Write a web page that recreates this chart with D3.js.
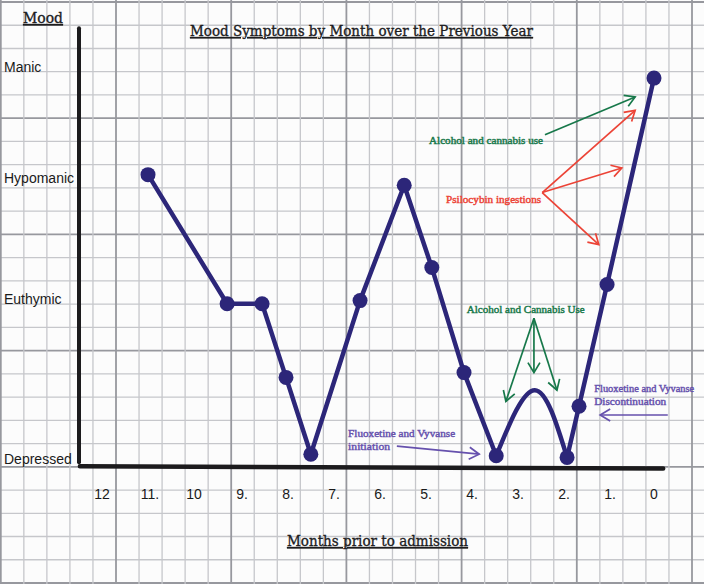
<!DOCTYPE html>
<html>
<head>
<meta charset="utf-8">
<script src="https://cdn.jsdelivr.net/npm/d3@7"></script>
<style>
body { margin: 0; background: #fff; }
svg { display: block; }
</style>
</head>
<body>
<svg width="704" height="584"></svg>
<script>
const svg = d3.select("svg");

// mood levels, bottom to top
var moodLevels = ["Depressed", "Euthymic", "Hypomanic", "Manic"];
var levelValues = [0, 1, 2, 3];

// months prior to admission, labels as written on the sheet
var tickMonths = [12, 11, 10, 9, 8, 7, 6, 5, 4, 3, 2, 1, 0];
var tickLabels = ["12", "11.", "10", "9.", "8.", "7.", "6.", "5.", "4.", "3.", "2.", "1.", "0"];

// plotted points: month prior to admission, mood level (0 = depressed, 3 = manic)
var months = [11, 9.28, 8.52, 8, 7.46, 6.39, 5.43, 4.83, 4.13, 3.43, 1.89, 1.63, 1.02, 0];
var moods  = [2.03, 0.97, 0.97, 0.51, 0.03, 0.99, 1.94, 1.26, 0.54, 0.02, 0.01, 0.33, 1.12, 2.9];
// the little hump drawn between months 3.43 and 1.89 (no dot)
var humpMonth = 2.59;
var humpMood = 0.43;
var humpAfter = 9; // index of the point where the hump starts

// notes, in month / mood units
var notes = [
  {lines: ["Alcohol and cannabis use"], m: 4.89, v: 2.31, kind: "green", w: [114]},
  {lines: ["Psilocybin ingestions"], m: 4.52, v: 1.79, kind: "red", w: [95]},
  {lines: ["Alcohol and Cannabis Use"], m: 4.07, v: 0.91, kind: "green", w: [118]},
  {lines: ["Fluoxetine and Vyvanse", "initiation"], m: 6.65, v: 0.14, kind: "purple", w: [107, 42]},
  {lines: ["Fluoxetine and Vyvanse", "Discontinuation"], m: 1.3, v: 0.42, kind: "purple", w: [100, 72]}
];
var arrows = [
  {from: [2.37, 2.39], to: [0.41, 2.73], kind: "green"},
  {from: [2.43, 1.88], to: [0.41, 2.61], kind: "red"},
  {from: [2.43, 1.88], to: [0.70, 2.09], kind: "red"},
  {from: [2.43, 1.88], to: [1.20, 1.45], kind: "red"},
  {from: [2.61, 0.88], to: [3.22, 0.36], kind: "green"},
  {from: [2.61, 0.88], to: [2.61, 0.54], kind: "green"},
  {from: [2.61, 0.88], to: [2.11, 0.43], kind: "green"},
  {from: [5.59, 0.08], to: [3.80, 0.03], kind: "purple"},
  {from: [-0.30, 0.275], to: [1.17, 0.275], kind: "purple"}
];

var colors = {green: "#17784a", red: "#ec4336", purple: "#6651ad"};
var navy = "#2c2679";

// graph paper
var paperX = d3.scaleLinear().domain([0, 30]).range([0.8, 692]);
var paperY = d3.scaleLinear().domain([0, 25]).range([2, 583]);

svg.append("rect").attr("width", 704).attr("height", 584).attr("fill", "#fcfcfc");

svg.append("g").selectAll("line")
  .data(d3.range(26))
  .join("line")
  .attr("x1", 0).attr("x2", 704)
  .attr("y1", d => paperY(d)).attr("y2", d => paperY(d))
  .attr("stroke", d => d % 5 == 0 ? "#97989e" : "#c6c7cb")
  .attr("stroke-width", d => d % 5 == 0 ? 1.8 : 1.3);

svg.append("g").selectAll("line")
  .data(d3.range(31))
  .join("line")
  .attr("y1", 0).attr("y2", 584)
  .attr("x1", d => paperX(d)).attr("x2", d => paperX(d))
  .attr("stroke", d => d % 5 == 0 ? "#97989e" : "#c6c7cb")
  .attr("stroke-width", d => d % 5 == 0 ? 1.8 : 1.3);

// chart scales
var x = d3.scaleLinear().domain([12, 1]).range([102, 608]);
var y = d3.scaleLinear().domain(levelValues).range([459, 299, 178, 67]);

// axes drawn by hand on the sheet
svg.append("line")
  .attr("x1", x(12.5)).attr("x2", x(12.5))
  .attr("y1", y(3.35)).attr("y2", y(-0.02))
  .attr("stroke", "#1c1b1d").attr("stroke-width", 4).attr("stroke-linecap", "round");
svg.append("line")
  .attr("x1", x(12.48)).attr("x2", x(-0.2))
  .attr("y1", y(-0.045)).attr("y2", y(-0.06))
  .attr("stroke", "#1c1b1d").attr("stroke-width", 4.5).attr("stroke-linecap", "round");

svg.append("g").selectAll("text")
  .data(levelValues)
  .join("text")
  .attr("x", 4)
  .attr("y", d => y(d) + 5)
  .attr("font-family", "Liberation Sans, Arial, sans-serif")
  .attr("font-size", 14)
  .attr("fill", "#1a1a1a")
  .text(d => moodLevels[d]);

svg.append("g").selectAll("text")
  .data(tickMonths)
  .join("text")
  .attr("x", (d, i) => x(d) + (tickLabels[i].endsWith(".") ? 2 : 0))
  .attr("y", y(-0.05) + 32)
  .attr("text-anchor", "middle")
  .attr("font-family", "Liberation Sans, Arial, sans-serif")
  .attr("font-size", 14)
  .attr("fill", "#1a1a1a")
  .text((d, i) => tickLabels[i]);

// titles
function serifText(txt, px, py, size, len) {
  return svg.append("text")
    .attr("x", px).attr("y", py)
    .attr("font-family", "DejaVu Serif, serif")
    .attr("font-size", size)
    .attr("fill", "#1d1d1f")
    .attr("stroke", "#1d1d1f").attr("stroke-width", 0.35)
    .attr("text-decoration", "underline")
    .attr("textLength", len)
    .attr("lengthAdjust", "spacingAndGlyphs")
    .text(txt);
}
serifText("Mood", 23, 23, 15, 40);
serifText("Mood Symptoms by Month over the Previous Year", 190, 36, 14, 343);
serifText("Months prior to admission", x(6) - 91, 546, 15, 181);

// arrow heads
var defs = svg.append("defs");
Object.keys(colors).forEach(function(k) {
  defs.append("marker")
    .attr("id", "head-" + k)
    .attr("viewBox", "-12 -7 14 14")
    .attr("markerUnits", "userSpaceOnUse")
    .attr("markerWidth", 14).attr("markerHeight", 14)
    .attr("refX", 0).attr("refY", 0)
    .attr("orient", "auto")
    .append("path")
    .attr("d", "M-10,-6L0,0L-10,6")
    .attr("fill", "none")
    .attr("stroke", colors[k])
    .attr("stroke-width", 1.7);
});

svg.append("g").selectAll("line")
  .data(arrows)
  .join("line")
  .attr("x1", d => x(d.from[0])).attr("y1", d => y(d.from[1]))
  .attr("x2", d => x(d.to[0])).attr("y2", d => y(d.to[1]))
  .attr("stroke", d => colors[d.kind])
  .attr("stroke-width", 1.7)
  .attr("marker-end", d => "url(#head-" + d.kind + ")");

notes.forEach(function(n) {
  n.lines.forEach(function(t, i) {
    svg.append("text")
      .attr("x", x(n.m))
      .attr("y", y(n.v) + i * 13)
      .attr("font-family", "Liberation Serif, serif")
      .attr("font-size", 11)
      .attr("fill", colors[n.kind])
      .attr("stroke", colors[n.kind]).attr("stroke-width", 0.45)
      .attr("textLength", n.w[i])
      .attr("lengthAdjust", "spacingAndGlyphs")
      .text(t);
  });
});

// mood line
var pts = months.map((m, i) => [x(m), y(moods[i])]);
var straight = d3.line();
var arc = d3.line().curve(d3.curveNatural);

svg.append("path")
  .attr("d", straight(pts.slice(0, humpAfter + 1)))
  .attr("fill", "none").attr("stroke", navy).attr("stroke-width", 4.5)
  .attr("stroke-linejoin", "round");
svg.append("path")
  .attr("d", arc([pts[humpAfter], [x(humpMonth), y(humpMood)], pts[humpAfter + 1]]))
  .attr("fill", "none").attr("stroke", navy).attr("stroke-width", 4.5);
svg.append("path")
  .attr("d", straight(pts.slice(humpAfter + 1)))
  .attr("fill", "none").attr("stroke", navy).attr("stroke-width", 4.5)
  .attr("stroke-linejoin", "round");

svg.append("g").selectAll("circle")
  .data(pts)
  .join("circle")
  .attr("cx", d => d[0]).attr("cy", d => d[1])
  .attr("r", 7.5)
  .attr("fill", navy);
</script>
</body>
</html>
